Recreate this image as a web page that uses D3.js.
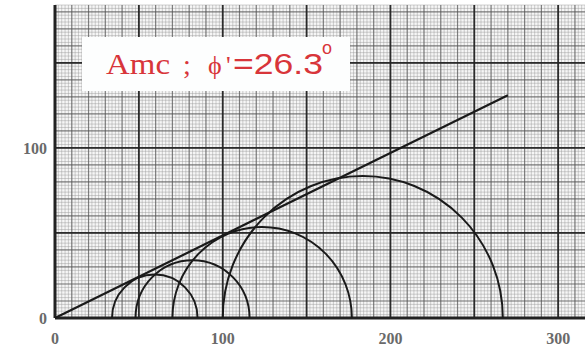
<!DOCTYPE html>
<html>
<head>
<meta charset="utf-8">
<script src="https://cdn.jsdelivr.net/npm/d3@7"></script>
<style>
html,body{margin:0;padding:0;background:#fff;}
svg{display:block;}
</style>
</head>
<body>
<svg id="chart" width="585" height="358"></svg>
<script>
// ---- data ----
const sigma3 = [34, 48, 70, 100];      // minor principal stress (circle left ends)
const sigma1 = [85, 116, 177, 267];    // major principal stress (circle right ends)
const envelopeX = [0, 270];            // failure envelope endpoints (x)
const envelopeY = [0, 131];            // failure envelope endpoints (y)
const xTicks = [0, 100, 200, 300];
const yTicks = [0, 100];
const titleParts = ["Amc", ";", "ϕ", "'", "=26.3"];

const svg = d3.select("#chart");
const W = 585, H = 358;

const x = d3.scaleLinear().domain([0, 316]).range([55, 585]);
const y = d3.scaleLinear().domain([0, 184]).range([318, 5]);

// background paper
svg.append("rect").attr("x", 55).attr("y", 5).attr("width", 530).attr("height", 313)
  .attr("fill", "#f6f6f6");

const gGrid = svg.append("g");
function vlines(step, color, width, op) {
  gGrid.selectAll(null).data(d3.range(0, 317, step)).enter().append("line")
    .attr("x1", d => x(d)).attr("x2", d => x(d)).attr("y1", y(184)).attr("y2", y(0))
    .attr("stroke", color).attr("stroke-width", width).attr("opacity", op);
}
function hlines(step, color, width, op) {
  gGrid.selectAll(null).data(d3.range(0, 185, step)).enter().append("line")
    .attr("y1", d => y(d)).attr("y2", d => y(d)).attr("x1", x(0)).attr("x2", x(316))
    .attr("stroke", color).attr("stroke-width", width).attr("opacity", op);
}
vlines(2, "#9a9a9a", 1, 0.45);
hlines(2, "#9a9a9a", 1, 0.45);
vlines(10, "#555", 1.2, 0.65);
hlines(10, "#555", 1.2, 0.65);
vlines(50, "#222", 1.8, 0.9);
hlines(50, "#222", 1.8, 0.9);

// axes lines
svg.append("line").attr("x1", x(0)).attr("x2", x(0)).attr("y1", y(184)).attr("y2", y(0))
  .attr("stroke", "#222").attr("stroke-width", 3);
svg.append("line").attr("x1", x(0)).attr("x2", W).attr("y1", y(0)).attr("y2", y(0))
  .attr("stroke", "#222").attr("stroke-width", 3);

// title box
svg.append("rect").attr("x", 82).attr("y", 37).attr("width", 268).attr("height", 54)
  .attr("fill", "#fdfefe");
const red = "#d8353a";
const serif = "Liberation Serif, serif", sans = "Liberation Sans, sans-serif";
const tpos = [
  { x: 106, f: serif, s: 30, len: 64 },
  { x: 183, f: serif, s: 28 },
  { x: 208, f: serif, s: 26 },
  { x: 226, f: serif, s: 26 },
  { x: 233, f: sans, s: 29, len: 90 }
];
svg.selectAll(".tt").data(titleParts).enter().append("text").attr("class", "tt")
  .attr("x", (d, i) => tpos[i].x).attr("y", 74)
  .attr("font-family", (d, i) => tpos[i].f).attr("font-size", (d, i) => tpos[i].s)
  .attr("fill", red)
  .each(function (d, i) {
    if (tpos[i].len) d3.select(this).attr("textLength", tpos[i].len).attr("lengthAdjust", "spacingAndGlyphs");
  })
  .text(d => d);
svg.append("text").attr("x", 322).attr("y", 54)
  .attr("font-family", sans).attr("font-size", 18)
  .attr("fill", red).text("o");

// tick labels
const labStyle = s => s.attr("font-family", "Liberation Serif, serif").attr("font-size", 16)
  .attr("fill", "#6a6a6a").attr("font-weight", "bold");
svg.selectAll(".xl").data(xTicks).enter().append("text").attr("class", "xl")
  .attr("x", d => x(d)).attr("y", 344).attr("text-anchor", "middle").call(labStyle)
  .text(d => d);
svg.selectAll(".yl").data(yTicks).enter().append("text").attr("class", "yl")
  .attr("x", 47).attr("y", d => y(d) + 6).attr("text-anchor", "end").call(labStyle)
  .text(d => d);

// Mohr circles (upper halves)
const circles = sigma3.map((s3, i) => ({ s3, s1: sigma1[i] }));
svg.selectAll(".mc").data(circles).enter().append("path").attr("class", "mc")
  .attr("d", d => {
    const rx = (x(d.s1) - x(d.s3)) / 2;
    const ry = y(0) - y((d.s1 - d.s3) / 2);
    return `M${x(d.s3)},${y(0)} A${rx},${ry} 0 0 1 ${x(d.s1)},${y(0)}`;
  })
  .attr("fill", "none").attr("stroke", "#1a1a1a").attr("stroke-width", 2);

// failure envelope
const env = envelopeX.map((v, i) => [v, envelopeY[i]]);
svg.append("path").datum(env)
  .attr("d", d3.line().x(d => x(d[0])).y(d => y(d[1])))
  .attr("stroke", "#1a1a1a").attr("stroke-width", 2.2).attr("fill", "none");
</script>
</body>
</html>
